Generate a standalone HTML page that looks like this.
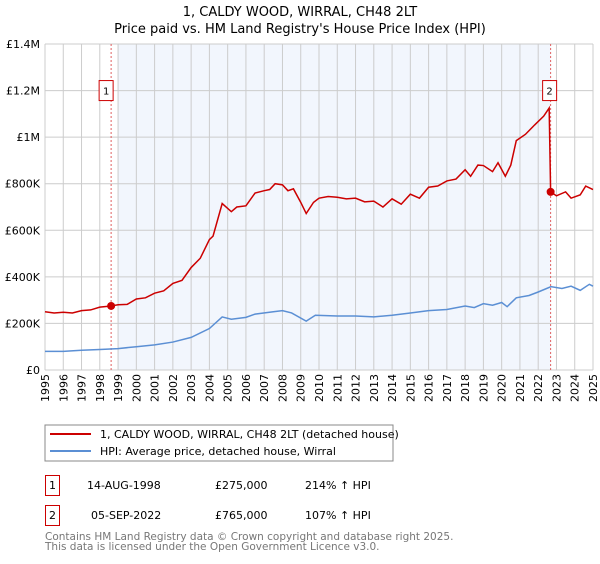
<!DOCTYPE html>
<html><head><meta charset="utf-8"><style>
body{margin:0;background:#fff;font-family:"DejaVu Sans","Liberation Sans",sans-serif;}
svg text{font-family:"DejaVu Sans","Liberation Sans",sans-serif;}
</style></head><body>
<svg id="c" width="600" height="560" xmlns="http://www.w3.org/2000/svg">
<text x="300" y="16" text-anchor="middle" font-size="13">1, CALDY WOOD, WIRRAL, CH48 2LT</text>
<text x="300" y="33" text-anchor="middle" font-size="13">Price paid vs. HM Land Registry's House Price Index (HPI)</text>
<g id="plot"></g>
<rect x="45" y="425" width="348" height="36" fill="none" stroke="#888"/>
<line x1="50" y1="434" x2="91" y2="434" stroke="#cc0000" stroke-width="2"/>
<text x="100" y="438" font-size="11">1, CALDY WOOD, WIRRAL, CH48 2LT (detached house)</text>
<line x1="50" y1="451" x2="91" y2="451" stroke="#5b8fd4" stroke-width="2"/>
<text x="100" y="455" font-size="11">HPI: Average price, detached house, Wirral</text>
<g font-size="11">
<rect x="45.5" y="475.5" width="14" height="20" fill="none" stroke="#cc0000"/>
<text x="52.5" y="489" text-anchor="middle">1</text>
<text x="87" y="489">14-AUG-1998</text>
<text x="215" y="489">£275,000</text>
<text x="305" y="489">214% ↑ HPI</text>
<rect x="45.5" y="505.5" width="14" height="20" fill="none" stroke="#cc0000"/>
<text x="52.5" y="519" text-anchor="middle">2</text>
<text x="91" y="519">05-SEP-2022</text>
<text x="215" y="519">£765,000</text>
<text x="305" y="519">107% ↑ HPI</text>
</g>
<text x="45" y="540" font-size="10.5" fill="#777">Contains HM Land Registry data © Crown copyright and database right 2025.</text>
<text x="45" y="550" font-size="10.5" fill="#777">This data is licensed under the Open Government Licence v3.0.</text>
</svg>
<script>
const yTicks=[0,200000,400000,600000,800000,1000000,1200000,1400000];
const yTickLabels=["£0","£200K","£400K","£600K","£800K","£1M","£1.2M","£1.4M"];
const years=[1995,1996,1997,1998,1999,2000,2001,2002,2003,2004,2005,2006,2007,2008,2009,2010,2011,2012,2013,2014,2015,2016,2017,2018,2019,2020,2021,2022,2023,2024,2025];
const saleDates=[1998.62,2022.68];
const salePrices=[275000,765000];
const saleLabels=["1","2"];
const propT=[1995,1995.5,1996,1996.5,1997,1997.5,1998,1998.62,1999,1999.5,2000,2000.5,2001,2001.5,2002,2002.5,2003,2003.5,2004,2004.2,2004.7,2005.2,2005.5,2006,2006.5,2007,2007.3,2007.6,2008,2008.3,2008.6,2009,2009.3,2009.7,2010,2010.5,2011,2011.5,2012,2012.5,2013,2013.5,2014,2014.5,2015,2015.5,2016,2016.5,2017,2017.5,2018,2018.3,2018.7,2019,2019.5,2019.8,2020.2,2020.5,2020.8,2021.3,2021.8,2022.3,2022.6,2022.68,2023,2023.5,2023.8,2024.3,2024.6,2025];
const propV=[250,245,248,245,255,258,270,275,280,282,305,310,330,340,372,385,440,480,560,575,715,680,700,705,760,770,775,800,795,770,778,720,672,720,738,745,742,735,738,722,725,700,735,712,755,738,785,790,812,820,860,832,880,878,852,890,832,880,985,1012,1052,1090,1125,765,748,765,738,752,790,775];
const hpiT=[1995,1996,1997,1998,1999,2000,2001,2002,2003,2004,2004.7,2005.2,2006,2006.5,2007.5,2008,2008.5,2009.3,2009.8,2011,2012,2013,2014,2015,2016,2017,2018,2018.5,2019,2019.5,2020,2020.3,2020.8,2021.5,2022,2022.7,2023.3,2023.8,2024.3,2024.8,2025];
const hpiV=[80,80,85,88,92,100,108,120,140,178,228,218,226,240,250,255,245,210,235,232,232,228,235,245,255,260,275,268,285,278,290,272,310,320,335,358,350,360,342,368,360];
const X0=45,X1=593,Y0=370,Y1=44;
const xs=t=>X0+(t-1995)/30*(X1-X0);
const ys=v=>Y0-v/1400000*(Y0-Y1);
const NS="http://www.w3.org/2000/svg";
const g=document.getElementById('plot');
function mk(tag,attrs){const e=document.createElementNS(NS,tag);for(const k in attrs)e.setAttribute(k,attrs[k]);g.appendChild(e);return e;}
let e;
e=mk('rect',{x:xs(1999),y:Y1,width:xs(saleDates[1])-xs(1999),height:Y0-Y1,fill:'#eef3fc',opacity:0.75});


years.forEach(y=>{e=mk('line',{x1:xs(y),x2:xs(y),y1:Y1,y2:Y0,stroke:'#cccccc'});


e=mk('text',{x:0,y:0,transform:`translate(${xs(y)+4},${Y0+4}) rotate(-90)`,'text-anchor':'end','font-size':11});e.textContent=y;

});
yTicks.forEach((v,i)=>{e=mk('line',{x1:X0,x2:X1,y1:ys(v),y2:ys(v),stroke:'#cccccc'});


e=mk('text',{x:X0-5,y:ys(v)+4,'text-anchor':'end','font-size':11});e.textContent=yTickLabels[i];

});
saleDates.forEach((d,i)=>{e=mk('line',{x1:xs(d),x2:xs(d),y1:Y1,y2:Y0,stroke:'#e06060','stroke-dasharray':'2,2'});

});
e=mk('polyline',{points:hpiT.map((t,i)=>xs(t)+','+ys(hpiV[i]*1000)).join(' '),fill:'none',stroke:'#5b8fd4','stroke-width':1.5});


e=mk('polyline',{points:propT.map((t,i)=>xs(t)+','+ys(propV[i]*1000)).join(' '),fill:'none',stroke:'#cc0000','stroke-width':1.5});


saleDates.forEach((d,i)=>{e=mk('circle',{cx:xs(d),cy:ys(salePrices[i]),r:4,fill:'#cc0000'});


e=mk('rect',{x:xs(d)-7-(i?1:5),y:ys(1200000)-10,width:14,height:20,fill:'#fff',stroke:'#cc0000'});


e=mk('text',{x:xs(d)-(i?1:5),y:ys(1200000)+4,'text-anchor':'middle','font-size':10});e.textContent=saleLabels[i];

});
</script>
</body></html>
